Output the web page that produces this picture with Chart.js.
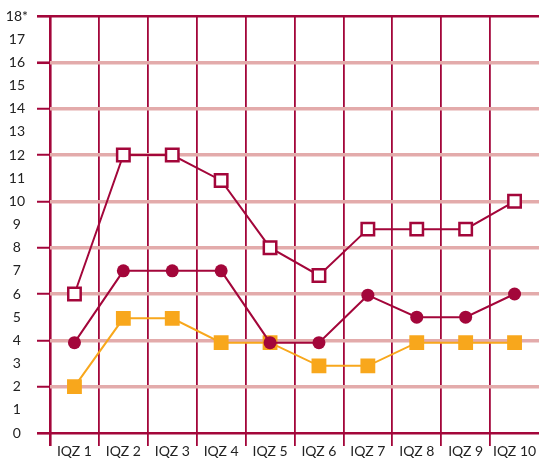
<!DOCTYPE html>
<html lang="en">
<head>
    <meta charset="UTF-8">
    <title>IQZ</title>
    <style>
        html, body { margin: 0; padding: 0; background: #fff; }
        .chart-container { width: 539px; height: 459px; }
    </style>
</head>
<body>
<div class="chart-container">
    <canvas id="chart"></canvas>
</div>

<script src="https://cdn.jsdelivr.net/npm/chart.js@4.4.1/dist/chart.umd.min.js"></script>
<script>
    const labels = ['IQZ 1', 'IQZ 2', 'IQZ 3', 'IQZ 4', 'IQZ 5', 'IQZ 6', 'IQZ 7', 'IQZ 8', 'IQZ 9', 'IQZ 10'];
    const hollowSeries = [6, 12, 12, 10.9, 8, 6.8, 8.8, 8.8, 8.8, 10];
    const circleSeries = [3.9, 7, 7, 7, 3.9, 3.9, 5.95, 5, 5, 6];
    const orangeSeries = [2, 4.95, 4.95, 3.9, 3.9, 2.9, 2.9, 3.9, 3.9, 3.9];
    const yTickLabels = ['0', '1', '2', '3', '4', '5', '6', '7', '8', '9', '10', '11', '12', '13', '14', '15', '16', '17', '18*'];

    const colors = {
        red: '#a3063a',
        orange: '#f8a71c',
        pink: '#e3abab',
        text: '#222222'
    };

    // keep the plot area fixed, labels may hang over the edges
    function clearPadding(scale) {
        scale.paddingLeft = 0;
        scale.paddingRight = 0;
        scale.paddingTop = 0;
        scale.paddingBottom = 0;
    }

    const ctx = document.getElementById('chart').getContext('2d');
    const chart = new Chart(ctx, {
        type: 'line',
        data: {
            labels: labels,
            datasets: [{
                data: circleSeries,
                borderColor: colors.red,
                backgroundColor: colors.red,
                borderWidth: 2,
                pointStyle: 'circle',
                pointRadius: 6.5,
                pointBorderWidth: 0,
                tension: 0
            },
            {
                data: hollowSeries,
                borderColor: colors.red,
                backgroundColor: '#ffffff',
                borderWidth: 2,
                pointStyle: 'rect',
                pointRadius: 8.8,
                pointBorderWidth: 2.5,
                tension: 0
            },
            {
                data: orangeSeries,
                borderColor: colors.orange,
                backgroundColor: colors.orange,
                borderWidth: 2,
                pointStyle: 'rect',
                pointRadius: 10.5,
                pointBorderWidth: 0,
                tension: 0
            }]
        },
        options: {
            responsive: true,
            maintainAspectRatio: false,
            animation: false,
            layout: {
                autoPadding: false,
                padding: { top: 16, right: 0, left: 0, bottom: 0 }
            },
            plugins: {
                legend: { display: false },
                tooltip: { enabled: false }
            },
            scales: {
                x: {
                    offset: true,
                    border: { display: false },
                    grid: {
                        offset: true,
                        color: c => c.tick ? colors.red : 'transparent',
                        tickColor: c => c.tick ? colors.red : 'transparent',
                        lineWidth: c => c.index === 0 ? 2.6 : 1.8,
                        tickWidth: c => c.index === 0 ? 2.6 : 1.8,
                        tickLength: 13
                    },
                    ticks: {
                        autoSkip: false,
                        maxRotation: 0,
                        padding: -3,
                        color: colors.text,
                        font: { family: 'Lato', size: 14 }
                    },
                    afterFit: scale => {
                        scale.height = 26;
                        clearPadding(scale);
                    }
                },
                y: {
                    min: 0,
                    max: 18,
                    border: { display: false },
                    grid: {
                        color: c => {
                            const v = c.tick.value;
                            if (v === 0 || v === 18) return colors.red;
                            return v % 2 === 0 ? colors.pink : 'transparent';
                        },
                        lineWidth: c => {
                            const v = c.tick.value;
                            return (v === 0 || v === 18) ? 2.6 : 3.5;
                        },
                        tickColor: c => c.tick.value % 2 === 0 ? colors.red : 'transparent',
                        tickWidth: c => {
                            const v = c.tick.value;
                            return (v === 0 || v === 18 || v === 16) ? 2.6 : 2;
                        },
                        tickLength: 13
                    },
                    ticks: {
                        stepSize: 1,
                        crossAlign: 'center',
                        padding: 9,
                        color: colors.text,
                        font: { family: 'Lato', size: 14 },
                        callback: (value) => yTickLabels[value]
                    },
                    afterFit: scale => {
                        scale.width = 50;
                        clearPadding(scale);
                    }
                }
            }
        }
    });
</script>
</body>
</html>
